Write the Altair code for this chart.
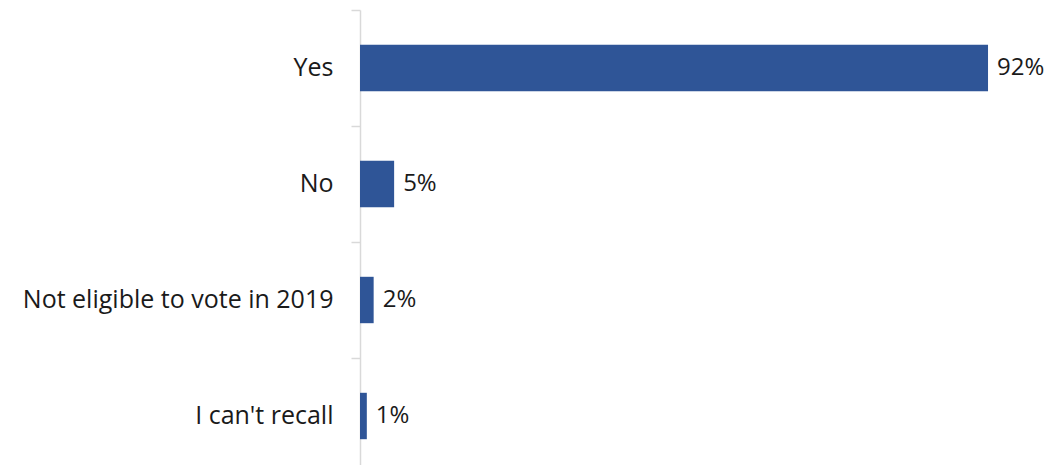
import altair as alt
import pandas as pd

categories = ["Yes", "No", "Not eligible to vote in 2019", "I can't recall"]
values = [92, 5, 2, 1]
labels = ["92%", "5%", "2%", "1%"]

df = pd.DataFrame({"cat": categories, "val": values, "lab": labels})

FONT = "Open Sans"
BAR = "#2F5597"
STEP = 116

yscale = alt.Scale(paddingInner=0.6, paddingOuter=0.3, range=[0, 4 * STEP])

y_labels = alt.Y(
    "cat:N",
    sort=categories,
    title=None,
    scale=yscale,
    axis=alt.Axis(
        orient="left",
        domainColor="#d9d9d9",
        domainWidth=1.5,
        ticks=False,
        labelFont=FONT,
        labelFontSize=25,
        labelColor="#1a1a1a",
        labelPadding=27,
        labelLimit=500,
    ),
)

y_ticks = alt.Y(
    "cat:N",
    sort=categories,
    title=None,
    scale=yscale,
    axis=alt.Axis(
        orient="left",
        domain=False,
        labels=False,
        tickColor="#d9d9d9",
        tickWidth=1.5,
        tickSize=9,
        bandPosition=0,
        tickOffset=-0.3 * STEP,
    ),
)

x = alt.X(
    "val:Q",
    title=None,
    scale=alt.Scale(domain=[0, 100.2], nice=False),
    axis=None,
)

bars = alt.Chart(df).mark_bar(color=BAR).encode(y=y_labels, x=x)
text = alt.Chart(df).mark_text(
    align="left", baseline="middle", dx=9, font=FONT, fontSize=24, color="#1a1a1a"
).encode(y=y_ticks, x=x, text="lab:N")

chart = (
    alt.layer(bars, text)
    .resolve_axis(y="independent")
    .properties(
        width=684,
        height=455,
        autosize=alt.AutoSizeParams(type="none"),
        padding={"left": 352, "top": 2, "right": 0, "bottom": 0},
    )
    .configure_view(stroke=None)
)

chart.save("out.html", embed_options={"renderer": "svg", "actions": False})
